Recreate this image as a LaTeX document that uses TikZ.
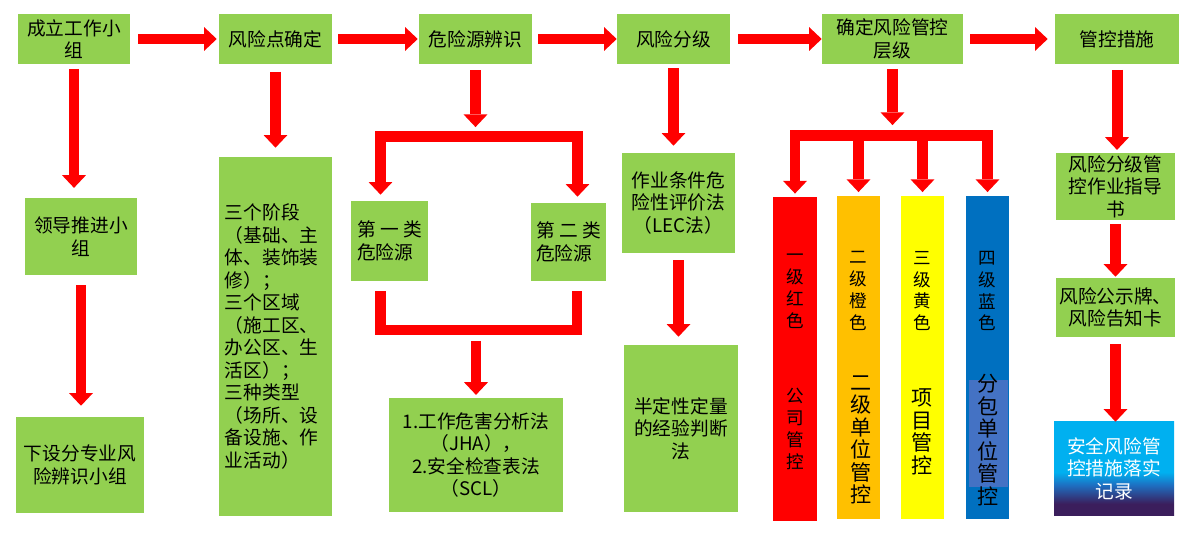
\documentclass[tikz,border=0pt]{standalone}
\usepackage{fontspec}
\newfontfamily\cjk{Noto Sans CJK SC}
\usepackage{tikz}
\usetikzlibrary{arrows.meta}
\definecolor{riskgreen}{HTML}{92D050}
\definecolor{riskred}{HTML}{FF0000}
\definecolor{riskorange}{HTML}{FFC000}
\definecolor{riskyellow}{HTML}{FFFF00}
\definecolor{riskblue}{HTML}{0070C0}
\definecolor{riskslate}{HTML}{4472C4}
\definecolor{recordtop}{HTML}{00B0F0}
\definecolor{recordmid}{HTML}{1E6EC0}
\definecolor{recordbot}{HTML}{3B1E5C}
\pgfdeclareverticalshading{recordfade}{100bp}{color(0bp)=(recordbot); color(31bp)=(recordbot); color(41bp)=(recordmid); color(48bp)=(recordtop); color(100bp)=(recordtop)}

\begin{document}
\begin{tikzpicture}[x=0.025cm, y=-0.025cm,
    stepbox/.style={fill=riskgreen, align=center, inner sep=0pt, font=\cjk\fontsize{13.3}{16}\selectfont},
    levelbar/.style={fill=#1, minimum width=1.08cm, minimum height=8.08cm, inner sep=0pt},
    tag/.style={align=center, inner sep=0pt, font=\cjk\fontsize{12.5}{15.6}\selectfont},
    bigtag/.style={align=center, inner sep=0pt, font=\cjk\fontsize{15}{16}\selectfont},
    fat/.style={draw=riskred, line width=7.8pt, -{Triangle[width=17pt,length=9pt,line width=0pt]}},
    fatline/.style={draw=riskred, line width=7.8pt},
]
\fill[white] (0,0) rectangle (1195,539);
\useasboundingbox (0,0) rectangle (1195,539);

% top row
\node[stepbox, minimum width=2.8cm, minimum height=1.23cm] (team) at (74,39) {成立工作小\\组};
\node[stepbox, minimum width=2.825cm, minimum height=1.23cm] (points) at (275.5,39) {风险点确定};
\node[stepbox, minimum width=2.825cm, minimum height=1.25cm] (hazard) at (475.5,39) {危险源辨识};
\node[stepbox, minimum width=2.825cm, minimum height=1.25cm] (grading) at (673.5,39) {风险分级};
\node[stepbox, minimum width=3.525cm, minimum height=1.23cm] (level) at (892.5,39) {确定风险管控\\层级};
\node[stepbox, minimum width=3.1cm, minimum height=1.23cm] (measure) at (1117,39) {管控措施};

% columns
\node[stepbox, minimum width=2.8cm, minimum height=1.925cm] (leadgrp) at (81,236.5) {领导推进小\\组};
\node[stepbox, minimum width=3.2cm, minimum height=2.4cm] (subgrp) at (80,465) {下设分专业风\\险辨识小组};

\node[stepbox, align=left, text width=2.525cm, inner xsep=0.15cm, minimum height=8.975cm] (scope) at (275.5,336.5)
    {三个阶段\\（基础、主\\体、装饰装\\修）；\\三个区域\\（施工区、\\办公区、生\\活区）；\\三种类型\\（场所、设\\备设施、作\\业活动）};

\node[stepbox, align=left, minimum width=1.925cm, minimum height=2cm] (hazone) at (389.5,241) {第 一 类\\危险源};
\node[stepbox, align=left, minimum width=1.875cm, minimum height=1.95cm] (haztwo) at (568.5,242) {第 二 类\\危险源};
\node[stepbox, minimum width=4.35cm, minimum height=2.85cm] (methods) at (476,455) {1.工作危害分析法\\（JHA），\\2.安全检查表法\\（SCL）};

\node[stepbox, minimum width=2.825cm, minimum height=2.5cm] (lec) at (678.5,203) {作业条件危\\险性评价法\\（LEC法）};
\node[stepbox, minimum width=2.85cm, minimum height=4.175cm] (semi) at (681,428.5) {半定性定量\\的经验判断\\法};

\node[levelbar=riskred] (lvred) at (795,359) {};
\node[levelbar=riskorange] (lvorange) at (858.5,357.5) {};
\node[levelbar=riskyellow] (lvyellow) at (922.5,357.5) {};
\node[levelbar=riskblue] (lvblue) at (987.5,357.5) {};
\fill[riskslate] (969,380) rectangle (1008,487);

\node[tag] (redname) at (795,291) {一\\级\\红\\色};
\node[tag] (redunit) at (795,429) {公\\司\\管\\控};
\node[tag] (orangename) at (858.5,291) {二\\级\\橙\\色};
\node[bigtag] (orangeunit) at (861,440) {二\\级\\单\\位\\管\\控};
\node[tag] (yellowname) at (922.5,291) {三\\级\\黄\\色};
\node[bigtag] (yellowunit) at (922.5,432) {项\\目\\管\\控};
\node[tag] (bluename) at (987.5,291) {四\\级\\蓝\\色};
\node[bigtag] (blueunit) at (988,440) {分\\包\\单\\位\\管\\控};

\node[stepbox, minimum width=2.975cm, minimum height=1.675cm] (guide) at (1115.5,186.5) {风险分级管\\控作业指导\\书};
\node[stepbox, minimum width=2.975cm, minimum height=1.475cm] (board) at (1115.5,307.5) {风险公示牌、\\风险告知卡};
\node[stepbox, fill=none, shading=recordfade, text=white, minimum width=3cm, minimum height=2.325cm] (record) at (1114,468.5) {安全风险管\\控措施落实\\记录};

% arrows along the top
\foreach \a/\b/\s/\e in {team/points/5.7pt/1.4pt, points/hazard/4.3pt/0.7pt, hazard/grading/4.3pt/0pt, grading/level/5.7pt/0pt, level/measure/5pt/5pt}
    \draw[fat, shorten <=\s, shorten >=\e] (\a) -- (\b);

% arrows down the columns
\foreach \a/\b/\s/\e in {team/leadgrp/3.5pt/7pt, leadgrp/subgrp/7pt/7.8pt, points/scope/5.7pt/6.4pt, grading/lec/2.8pt/5pt, lec/semi/5pt/5.7pt, measure/guide/4.3pt/2pt, guide/board/2.8pt/0.7pt, board/record/5pt/0pt}
    \draw[fat, shorten <=\s, shorten >=\e] (\a.south) -- (\a.south |- \b.north);

% hazard split and join
\coordinate (fork) at (475.5,136.5);
\coordinate (forkl) at (380.5,136.5);
\coordinate (forkr) at (577.5,136.5);
\draw[fat, shorten <=4.3pt, shorten >=6.7pt] (hazard) -- (fork);
\draw[fatline, line cap=rect] (forkl) -- (forkr);
\draw[fat, shorten >=4.3pt] (forkl) -- (forkl |- hazone.north);
\draw[fat, shorten >=4.3pt] (forkr) -- (forkr |- haztwo.north);

\coordinate (joinl) at (380.5,330);
\coordinate (joinr) at (577,330);
\draw[fatline, shorten <=7pt, shorten >=7pt] (joinl |- hazone.south) -- (joinl) -- (joinr) -- (joinr |- haztwo.south);
\draw[fat, shorten <=7.8pt, shorten >=2pt] (methods.north |- joinl) -- (methods.north);

% level split
\coordinate (split) at (892.5,135.5);
\draw[fat, shorten <=3.5pt, shorten >=7.4pt] (level) -- (split);
\draw[fatline, line cap=rect] (lvred.north |- split) -- (lvblue.north |- split);
\foreach \n in {lvred,lvorange,lvyellow,lvblue}
    \draw[fat, shorten >=2.5pt] (\n.north |- split) -- (\n.north);
\end{tikzpicture}
\end{document}
